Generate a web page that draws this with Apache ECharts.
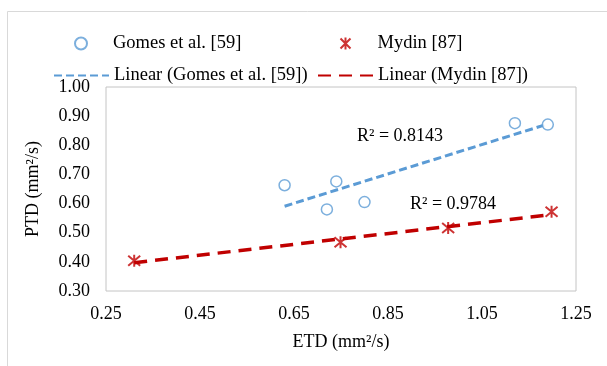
<!DOCTYPE html>
<html>
<head>
<meta charset="utf-8">
<script src="https://cdn.jsdelivr.net/npm/echarts@6/dist/echarts.min.js"></script>
<style>
  html, body { margin: 0; padding: 0; background: #fff; }
  #chart { width: 607px; height: 366px; }
</style>
</head>
<body>
<div id="chart"></div>
<script>
// ETD / PTD pairs
const gomesPoints = [[0.630, 0.663], [0.720, 0.580], [0.740, 0.676], [0.800, 0.605], [1.120, 0.876], [1.190, 0.871]];
const mydinPoints = [[0.310, 0.404], [0.749, 0.467], [0.978, 0.516], [1.198, 0.572]];
// trend line end points (Excel linear trendlines)
const gomesTrend = [[0.630, 0.591], [1.190, 0.873]];
const mydinTrend = [[0.310, 0.397], [1.198, 0.562]];
const r2Labels = ['R² = 0.8143', 'R² = 0.9784'];

const FONT = '"Liberation Serif", "Times New Roman", serif';
const BLUE = '#5b9bd5';
const RED = '#c00000';

const chart = echarts.init(document.getElementById('chart'));

const legendText = { fontFamily: FONT, fontSize: 18.5, color: '#000' };

// one legend per entry so each sits where Excel put it
const markerLegend = (name, left) => ({
  data: [name],
  left: left,
  top: 34,
  padding: 0,
  itemWidth: 12,
  itemHeight: 12,
  selectedMode: false,
  textStyle: Object.assign({ padding: [0, 0, 0, 21] }, legendText)
});
const lineLegend = (name, left) => ({
  data: [name],
  left: left,
  top: 66,
  padding: 0,
  itemWidth: 55,
  itemHeight: 12,
  selectedMode: false,
  itemStyle: { opacity: 0 },
  textStyle: legendText
});

const option = {
  animation: false,
  backgroundColor: '#fff',
  textStyle: { fontFamily: FONT },
  grid: { left: 106, right: 31, top: 87, bottom: 75, show: true, borderColor: '#c4c4c4', borderWidth: 1 },
  legend: [
    markerLegend('Gomes et al. [59]', 74),
    markerLegend('Mydin [87]', 338),
    lineLegend('Linear (Gomes et al. [59])', 53),
    lineLegend('Linear (Mydin [87])', 317)
  ],
  xAxis: {
    type: 'value',
    min: 0.25,
    max: 1.25,
    interval: 0.2,
    name: 'ETD (mm²/s)',
    nameLocation: 'middle',
    nameGap: 42,
    nameTextStyle: { fontFamily: FONT, fontSize: 18, color: '#000' },
    axisLine: { show: false },
    axisTick: { show: false },
    splitLine: { show: false },
    axisLabel: {
      margin: 14,
      fontFamily: FONT,
      fontSize: 18,
      color: '#000',
      formatter: v => v.toFixed(2)
    }
  },
  yAxis: {
    type: 'value',
    min: 0.3,
    max: 1.0,
    interval: 0.1,
    name: 'PTD (mm²/s)',
    nameLocation: 'middle',
    nameGap: 64,
    nameTextStyle: { fontFamily: FONT, fontSize: 18, color: '#000' },
    axisLine: { show: false },
    axisTick: { show: false },
    splitLine: { show: false },
    axisLabel: {
      margin: 16,
      fontFamily: FONT,
      fontSize: 18,
      color: '#000',
      formatter: v => v.toFixed(2)
    }
  },
  series: [
    {
      name: 'Linear (Gomes et al. [59])',
      type: 'line',
      data: gomesTrend,
      symbol: 'none',
      lineStyle: { color: BLUE, width: 3, type: [8, 4] },
      itemStyle: { color: BLUE },
      z: 2
    },
    {
      name: 'Linear (Mydin [87])',
      type: 'line',
      data: mydinTrend,
      symbol: 'none',
      lineStyle: { color: RED, width: 3.5, type: [13, 8] },
      itemStyle: { color: RED },
      z: 2
    },
    {
      name: 'Gomes et al. [59]',
      type: 'scatter',
      data: gomesPoints,
      symbol: 'circle',
      symbolSize: 11,
      itemStyle: { color: '#fff', borderColor: BLUE, borderWidth: 1.5 },
      z: 3
    },
    {
      name: 'Mydin [87]',
      type: 'scatter',
      data: mydinPoints,
      symbol: 'path://M0,0L10,10M10,0L0,10M5,-1L5,11',
      symbolSize: 12,
      itemStyle: { color: 'none', borderColor: RED, borderWidth: 2 },
      z: 3
    }
  ],
  graphic: [
    {
      type: 'polyline',
      shape: { points: [[607, 11.5], [7.5, 11.5], [7.5, 366]] },
      style: { stroke: '#d9d9d9', lineWidth: 1, fill: null },
      silent: true
    },
    {
      type: 'text',
      left: 357,
      top: 127,
      style: { text: r2Labels[0], font: '18px ' + FONT, fill: '#000' }
    },
    {
      type: 'text',
      left: 410,
      top: 195,
      style: { text: r2Labels[1], font: '18px ' + FONT, fill: '#000' }
    }
  ]
};

chart.setOption(option);
window.addEventListener('resize', () => chart.resize());
</script>
</body>
</html>
